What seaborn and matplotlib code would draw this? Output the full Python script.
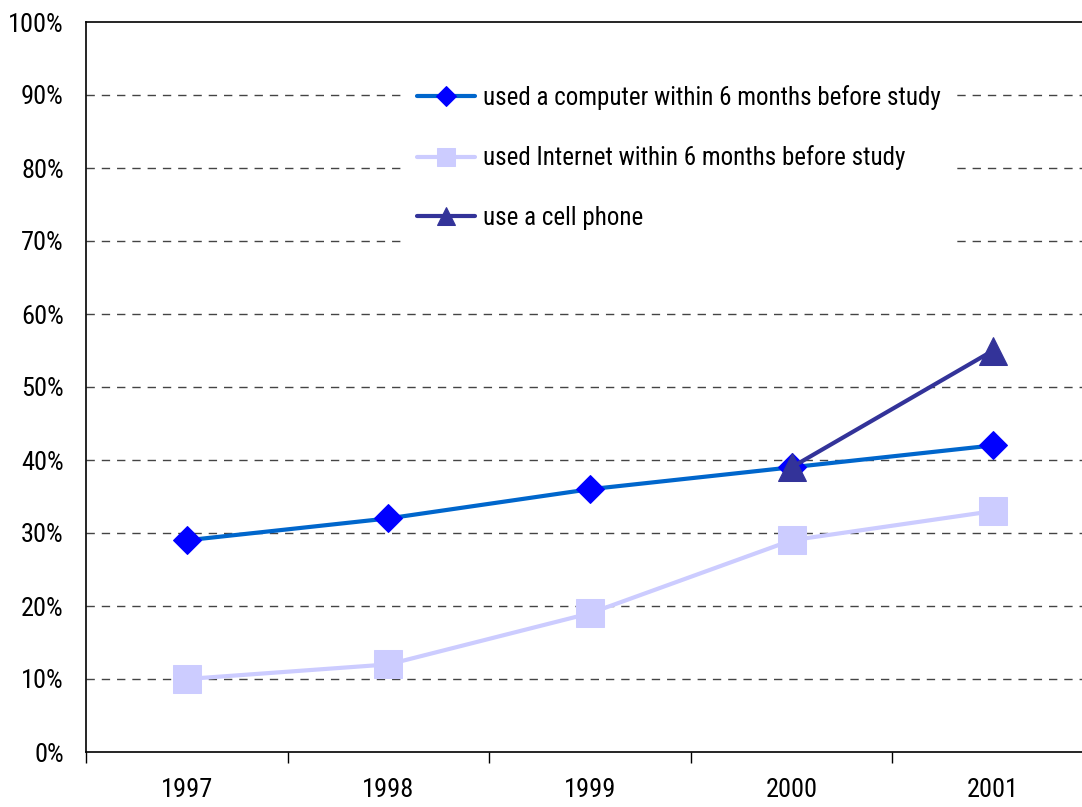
#!/usr/bin/env python3
"""Computer, Internet and cell phone use, 1997-2001."""

import matplotlib
matplotlib.use("Agg")
import matplotlib.pyplot as plt
import numpy as np
import pandas as pd
import seaborn as sns

YEARS = ["1997", "1998", "1999", "2000", "2001"]
COMPUTER = [29, 32, 36, 39, 42]
INTERNET = [10, 12, 19, 29, 33]
CELL_PHONE = [np.nan, np.nan, np.nan, 39, 55]
LABELS = ["used a computer within 6 months before study",
          "used Internet within 6 months before study",
          "use a cell phone"]


def main():
    sns.set_theme(style="white")
    plt.rcParams["font.family"] = ["Roboto Condensed", "Archivo Narrow",
                                   "DejaVu Sans"]

    df = pd.DataFrame({"idx": range(len(YEARS)), "computer": COMPUTER,
                       "internet": INTERNET, "cell": CELL_PHONE})

    fig = plt.figure(figsize=(10.82, 8.07), dpi=100)
    ax = fig.add_axes([86 / 1082, 55 / 807, 1008 / 1082, 730 / 807])

    # Series: (column, line colour, marker, marker colour, marker size)
    styles = [("computer", "#0066CC", "D", "#0000FF", 14.5),
              ("internet", "#CCCCFF", "s", "#CCCCFF", 19.5),
              ("cell", "#333399", "^", "#333399", 20)]
    for (col, lc, mk, mc, ms), lab in zip(styles, LABELS):
        sns.lineplot(data=df, x="idx", y=col, ax=ax, color=lc, lw=3,
                     marker=mk, markersize=ms, markerfacecolor=mc,
                     markeredgecolor=mc, label=lab, zorder=3)

    # Axes
    ax.set_xlim(-0.5, len(YEARS) - 0.5)
    ax.set_ylim(0, 100)
    ax.set_xticks(range(len(YEARS)))
    ax.set_xticklabels(YEARS)
    ax.set_xticks(np.arange(-0.5, len(YEARS)), minor=True)
    ax.tick_params(axis="x", which="major", length=0, pad=19, labelsize=19,
                   labelcolor="black")
    ax.tick_params(axis="x", which="minor", length=8, width=1,
                   color="black", direction="out", bottom=True)
    ax.set_yticks(range(0, 101, 10))
    ax.set_yticklabels([f"{v}%" for v in range(0, 101, 10)])
    ax.tick_params(axis="y", length=0, pad=16, labelsize=19,
                   labelcolor="black")
    ax.set(xlabel="", ylabel="")
    for v in range(10, 100, 10):
        ax.axhline(v, color="#444444", lw=1, ls=(0, (6, 5)), zorder=1)
    for side in ("left", "bottom", "top"):
        ax.spines[side].set_color("black")
        ax.spines[side].set_linewidth(1.2)
    ax.spines["right"].set_visible(False)

    # Legend
    leg = ax.legend(loc="upper left", bbox_to_anchor=(402 / 1082, 1 - 70 / 807),
                    bbox_transform=fig.transFigure, fontsize=18,
                    frameon=True, fancybox=False, framealpha=1,
                    edgecolor="white", handlelength=2.3, handletextpad=0.35,
                    labelspacing=1.42, markerscale=0.68, borderpad=0.6,
                    borderaxespad=0, labelcolor="black")
    leg.get_frame().set_linewidth(0)
    leg.set_zorder(5)

    fig.savefig("out.png", dpi=100)


if __name__ == "__main__":
    main()
